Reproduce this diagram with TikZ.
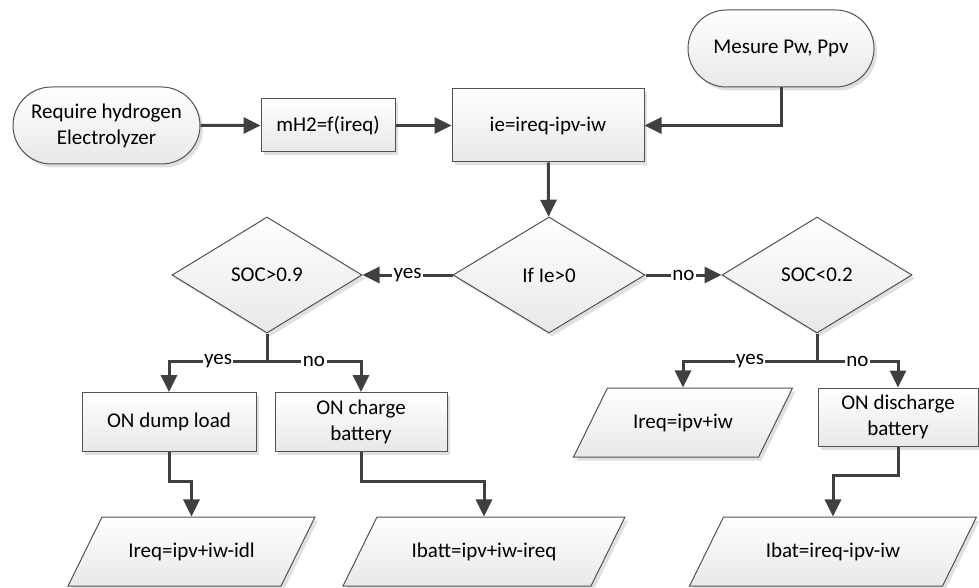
\documentclass[tikz,border=0pt]{standalone}
\usepackage{fontspec}
\setmainfont{Carlito}
\usetikzlibrary{arrows.meta,shapes.geometric,shapes.misc,shadows}
\begin{document}
\begin{tikzpicture}[x=1pt, y=-1pt, font=\fontsize{21}{26}\selectfont,
  base/.style={draw=black!68, line width=1pt, top color=white, bottom color=black!9, drop shadow={fill=black, opacity=0.12, shadow xshift=3pt, shadow yshift=-3.5pt}, align=center, inner sep=2pt},
  term/.style={base, rounded rectangle, minimum width=191pt, minimum height=77pt},
  proc/.style={base, rectangle, minimum height=59pt},
  cond/.style={base, diamond, aspect=1.65, minimum width=192pt, minimum height=116pt},
  io/.style={base, trapezium, trapezium left angle=62, trapezium right angle=118, trapezium stretches body=true, inner ysep=23pt, minimum height=69pt},
  arr/.style={draw=black!75, line width=3pt, -{Triangle[length=17pt,width=16pt]}},
  lbl/.style={fill=white, inner sep=1.5pt}]
\useasboundingbox (0,0) rectangle (979,588);
\node[term] (req) at (106.5,125.5) {Require hydrogen\\Electrolyzer};
\node[proc, minimum width=134pt, minimum height=53pt] (mh) at (328,125.5) {mH2=f(ireq)};
\node[proc, minimum width=192pt, minimum height=73pt] (ie) at (548,125.5) {ie=ireq-ipv-iw};
\node[term, minimum width=190pt] (mes) at (781,48.5) {Mesure Pw, Ppv};
\node[cond] (ifd) at (549,275) {If Ie>0};
\node[cond, minimum width=190pt] (soch) at (267,275) {SOC>0.9};
\node[cond, minimum width=190pt] (socl) at (817,275) {SOC<0.2};
\node[proc, minimum width=174pt] (dump) at (169,422) {ON dump load};
\node[proc, minimum width=172pt] (chg) at (361,422) {ON charge\\battery};
\node[io, minimum width=219pt] (ireqa) at (683,422.5) {Ireq=ipv+iw};
\node[proc, minimum width=160pt, minimum height=58pt] (dis) at (898,417) {ON discharge\\battery};
\node[io, minimum width=247pt] (ireqb) at (191.5,551.5) {Ireq=ipv+iw-idl};
\node[io, minimum width=282pt] (ibatt) at (484,551.5) {Ibatt=ipv+iw-ireq};
\node[io, minimum width=287pt] (ibat) at (833,551.5) {Ibat=ireq-ipv-iw};
\draw[arr] (req) -- (mh);
\draw[arr] (mh) -- (ie);
\draw[arr] (mes) |- (ie);
\draw[arr] (ie) -- (ifd);
\draw[arr] (ifd) -- node[lbl]{yes} (soch);
\draw[arr] (ifd) -- node[lbl]{no} (socl);
\draw[arr] (soch.south) -- ++(0,28) -| node[lbl, pos=0.25]{yes} (dump);
\draw[arr] (soch.south) -- ++(0,28) -| node[lbl, pos=0.25]{no} (chg);
\draw[arr] (socl.south) -- ++(0,28) -| node[lbl, pos=0.25]{yes} (ireqa);
\draw[arr] (socl.south) -- ++(0,28) -| node[lbl, pos=0.25]{no} (dis);
\draw[arr] (dump.south) -- ++(0,29) -| (ireqb);
\draw[arr] (chg.south) -- ++(0,29) -| (ibatt);
\draw[arr] (dis.south) -- ++(0,29) -| (ibat);
\end{tikzpicture}
\end{document}
